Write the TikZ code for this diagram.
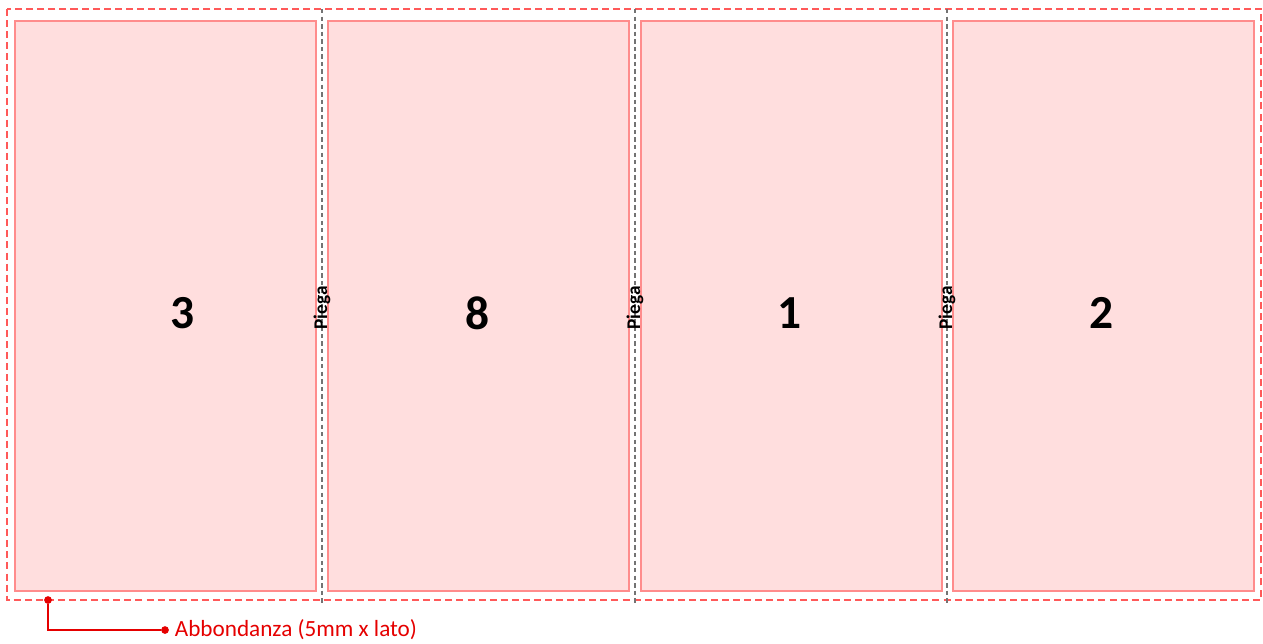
\documentclass[tikz,border=0pt]{standalone}
\usepackage{fontspec}
\setmainfont{Carlito}
\usetikzlibrary{positioning}

\colorlet{figPanel}  {red!13}
\colorlet{figBorder} {red!45!white}
\colorlet{figBleed}  {red!65!white}
\colorlet{figFold}   {black!55}
\colorlet{figLead}   {red!90!black}

\tikzset{
  pannello/.style={draw=figBorder, fill=figPanel, line width=0.9pt,
    minimum width=6.02cm, minimum height=11.4cm, inner sep=0pt, outer sep=0pt},
  numero/.style={font=\fontsize{27}{30}\selectfont\bfseries, inner sep=0pt},
  piega/.style={font=\fontsize{11}{13}\selectfont\bfseries, rotate=90, inner sep=0pt},
  puntino/.style={circle, fill=figLead, inner sep=0pt, minimum size=4.4pt}
}

\begin{document}
\begin{tikzpicture}[x=0.02cm, y=-0.02cm]
  \useasboundingbox (0,0) rectangle (1263,643);

  % pannelli
  \foreach \cx/\num/\nx [count=\i] in {165.5/3/183, 478.5/8/478, 791.5/1/790, 1103.5/2/1102}{
    \node[pannello] (p\i) at (\cx,306) {};
    \node[numero] (n\i) at (\nx,313) {\num};
  }

  % abbondanza
  \draw[figBleed, line width=1pt, dash pattern=on 4pt off 2.3pt]
        (7,9) rectangle (1261,600);

  % pieghe
  \foreach \fx [count=\i] in {322, 635, 947}{
    \coordinate (f\i a) at (\fx,9);
    \coordinate (f\i b) at (\fx,605);
    \draw[figFold, line width=0.9pt, dash pattern=on 2.5pt off 1.8pt] (f\i a)--(f\i b);
    \node[piega] (t\i) at (\fx,308) {Piega};
  }

  % richiamo
  \node[puntino] (d1) at (48,600) {};
  \node[puntino] (d2) at (165,630) {};
  \draw[figLead, line width=0.9pt] (d1) |- (d2);
  \node[right=3pt of d2, inner sep=0pt, text=figLead,
        font=\fontsize{13.2}{15}\selectfont] (abb) {Abbondanza (5mm x lato)};
\end{tikzpicture}
\end{document}
